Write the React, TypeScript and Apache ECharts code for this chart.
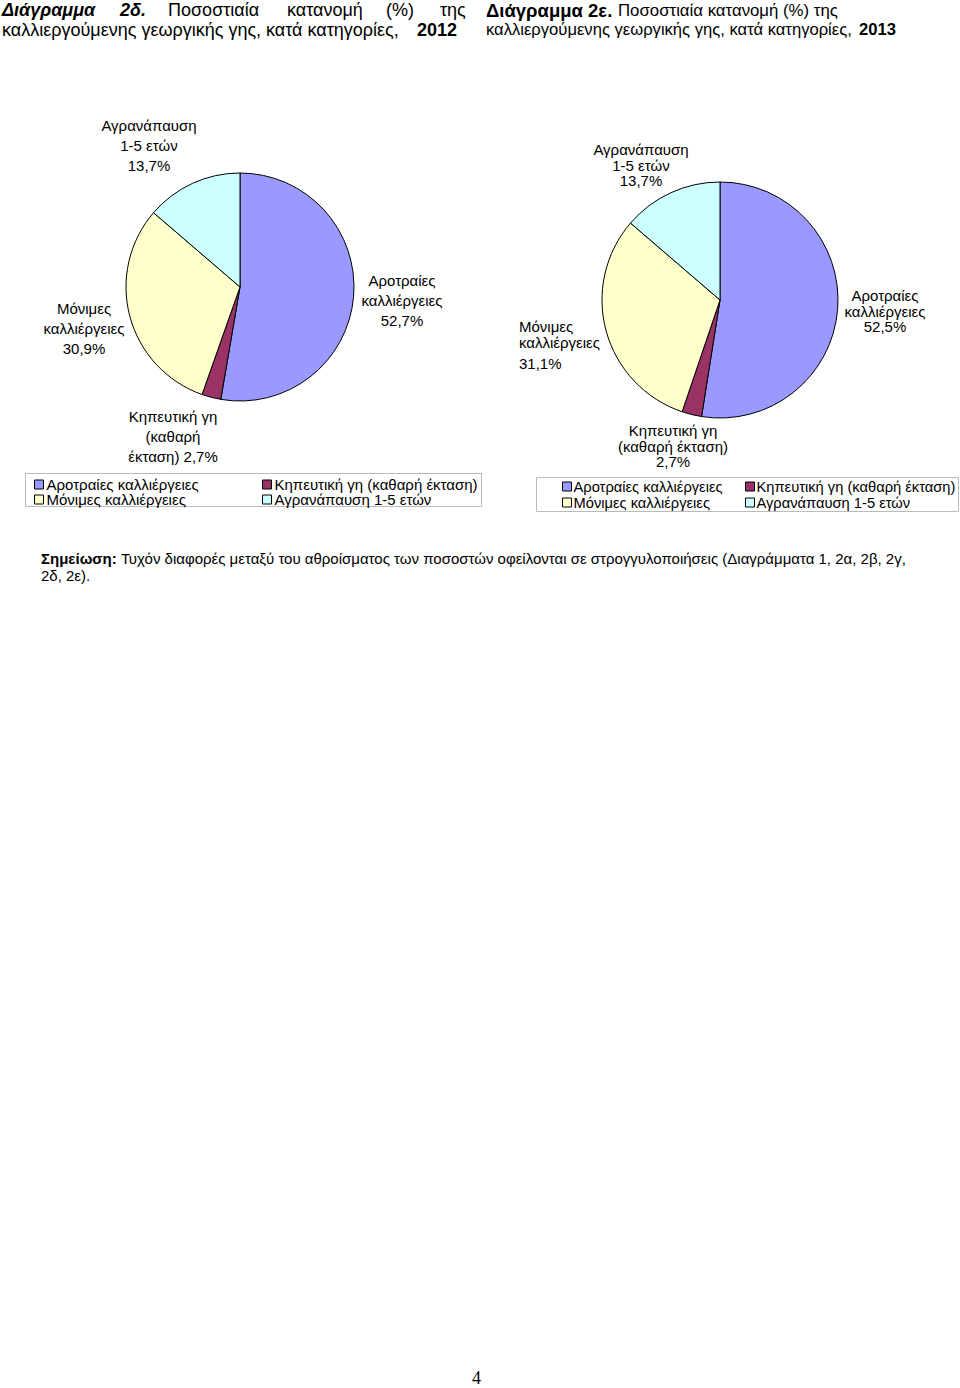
import React, { useEffect, useRef } from "react";
import * as echarts from "echarts";

const categories = [
  "Αροτραίες καλλιέργειες",
  "Κηπευτική γη (καθαρή έκταση)",
  "Μόνιμες καλλιέργειες",
  "Αγρανάπαυση 1-5 ετών",
];
const labelTexts2012 = [
  "Αροτραίες\nκαλλιέργειες\n52,7%",
  "Κηπευτική γη\n(καθαρή\nέκταση) 2,7%",
  "Μόνιμες\nκαλλιέργειες\n30,9%",
  "Αγρανάπαυση\n1-5 ετών\n13,7%",
];
const labelTexts2013 = [
  "Αροτραίες\nκαλλιέργειες\n52,5%",
  "Κηπευτική γη\n(καθαρή έκταση)\n2,7%",
  "Μόνιμες\nκαλλιέργειες\n{v|31,1%}",
  "Αγρανάπαυση\n1-5 ετών\n13,7%",
];
const values2012 = [52.7, 2.7, 30.9, 13.7];
const values2013 = [52.5, 2.7, 31.1, 13.7];
const colors = ["#9999FF", "#993366", "#FFFFCC", "#CCFFFF"];

const FONT = "'Liberation Sans', Arial, Helvetica, sans-serif";

// label anchor positions (layout only)
const labelPos = [
  [
    [402, 300, "center"],
    [173, 436, "center"],
    [84, 328, "center"],
    [149, 145, "center"],
  ],
  [
    [885, 311, "center"],
    [673, 446, "center"],
    [519, 348, "left"],
    [641, 165, "center"],
  ],
];

export default function App() {
  const ref = useRef<HTMLDivElement>(null);
  useEffect(() => {
    const chart = echarts.init(ref.current!, undefined, { renderer: "svg" });
    const mkData = (vals: number[]) =>
      categories.map((c, i) => ({
        name: c,
        value: vals[i],
        itemStyle: { color: colors[i] },
      }));
    const txt = (x: number, y: number, text: string, opts: any = {}) => ({
      type: "text",
      x,
      y,
      style: {
        text,
        fontFamily: FONT,
        fontSize: 18,
        fill: "#000",
        textVerticalAlign: "middle",
        ...opts,
      },
    });
    const legendBase = {
      orient: "vertical",
      icon: "rect",
      itemWidth: 9,
      itemHeight: 9,
      itemGap: 0,
      padding: 0,
      textStyle: { fontFamily: FONT, fontSize: 15, color: "#000", padding: [0, 0, 0, -2], lineHeight: 14 },
      itemStyle: { borderColor: "#000", borderWidth: 1 },
    };
    const legendRight = {
      ...legendBase,
      itemGap: 1,
      textStyle: { ...legendBase.textStyle, fontSize: 14.7, padding: [0, 0, 0, -3] },
    };
    chart.setOption({
      animation: false,
      backgroundColor: "#fff",
      color: colors,
      legend: [
        { ...legendBase, left: 34, top: 477, data: [categories[0], categories[2]] },
        { ...legendBase, left: 262, top: 477, data: [categories[1], categories[3]] },
        { ...legendRight, left: 562, top: 479, data: [categories[0], categories[2]] },
        { ...legendRight, left: 745, top: 479, data: [categories[1], categories[3]] },
      ],
      series: [
        {
          type: "pie",
          center: [240, 287],
          radius: 114,
          startAngle: 90,
          clockwise: true,
          data: mkData(values2012),
          itemStyle: { borderColor: "#000", borderWidth: 1 },
          emphasis: { disabled: true },
          labelLine: { show: false },
          label: {
            show: true,
            overflow: "none",
            formatter: (p: any) => labelTexts2012[p.dataIndex],
            fontFamily: FONT,
            fontSize: 15,
            lineHeight: 20,
            color: "#000",
            align: "center",
          },
          labelLayout: (p: any) => {
            const q = labelPos[0][p.dataIndex];
            return { x: q[0], y: q[1], align: q[2], verticalAlign: "middle" };
          },
        },
        {
          type: "pie",
          center: [720, 300],
          radius: 118,
          startAngle: 90,
          clockwise: true,
          data: mkData(values2013),
          itemStyle: { borderColor: "#000", borderWidth: 1 },
          emphasis: { disabled: true },
          labelLine: { show: false },
          label: {
            show: true,
            overflow: "none",
            formatter: (p: any) => labelTexts2013[p.dataIndex],
            fontFamily: FONT,
            fontSize: 15,
            lineHeight: 15.5,
            color: "#000",
            rich: { v: { fontFamily: FONT, fontSize: 15, lineHeight: 27, color: "#000" } },
          },
          labelLayout: (p: any) => {
            const q = labelPos[1][p.dataIndex];
            return { x: q[0], y: q[1], align: q[2], verticalAlign: "middle" };
          },
        },
      ],
      graphic: [
        // legend frames
        { type: "rect", shape: { x: 25.5, y: 473.5, width: 456, height: 33 }, style: { fill: "none", stroke: "#bbb", lineWidth: 1 }, z: -1 },
        { type: "rect", shape: { x: 536.5, y: 477.5, width: 422, height: 34 }, style: { fill: "none", stroke: "#bbb", lineWidth: 1 }, z: -1 },
        // left title line 1 (justified)
        txt(2, 10, "Διάγραμμα", { fontWeight: "bold", fontStyle: "italic" }),
        txt(120, 10, "2δ.", { fontWeight: "bold", fontStyle: "italic" }),
        txt(168, 10, "Ποσοστιαία"),
        txt(287, 10, "κατανομή"),
        txt(386, 10, "(%)"),
        txt(440, 10, "της"),
        txt(2, 30, "καλλιεργούμενης γεωργικής γης, κατά κατηγορίες, "),
        txt(417, 30, "2012", { fontWeight: "bold" }),
        // right title
        txt(486, 10, "Διάγραμμα 2ε.", { fontWeight: "bold", fontSize: 18.5 }),
        txt(618, 10, "Ποσοστιαία κατανομή (%) της", { fontSize: 16.8 }),
        txt(486, 29, "καλλιεργούμενης γεωργικής γης, κατά κατηγορίες, ", { fontSize: 16.6 }),
        txt(859, 29, "2013", { fontWeight: "bold", fontSize: 16.6 }),
        // note
        txt(41, 558, "Σημείωση:", { fontWeight: "bold", fontSize: 15 }),
        txt(121, 558, "Τυχόν διαφορές μεταξύ του αθροίσματος των ποσοστών οφείλονται σε στρογγυλοποιήσεις (Διαγράμματα 1, 2α, 2β, 2γ,", { fontSize: 15 }),
        txt(41, 575, "2δ, 2ε).", { fontSize: 15 }),
        // page number
        txt(472, 1378, "4", { fontFamily: "'Liberation Serif', 'DejaVu Serif', serif", fontSize: 18 }),
      ],
    });
    return () => chart.dispose();
  }, []);
  return (
    <div
      ref={ref}
      style={{ position: "absolute", left: 0, top: 0, width: 960, height: 1388 }}
    />
  );
}
